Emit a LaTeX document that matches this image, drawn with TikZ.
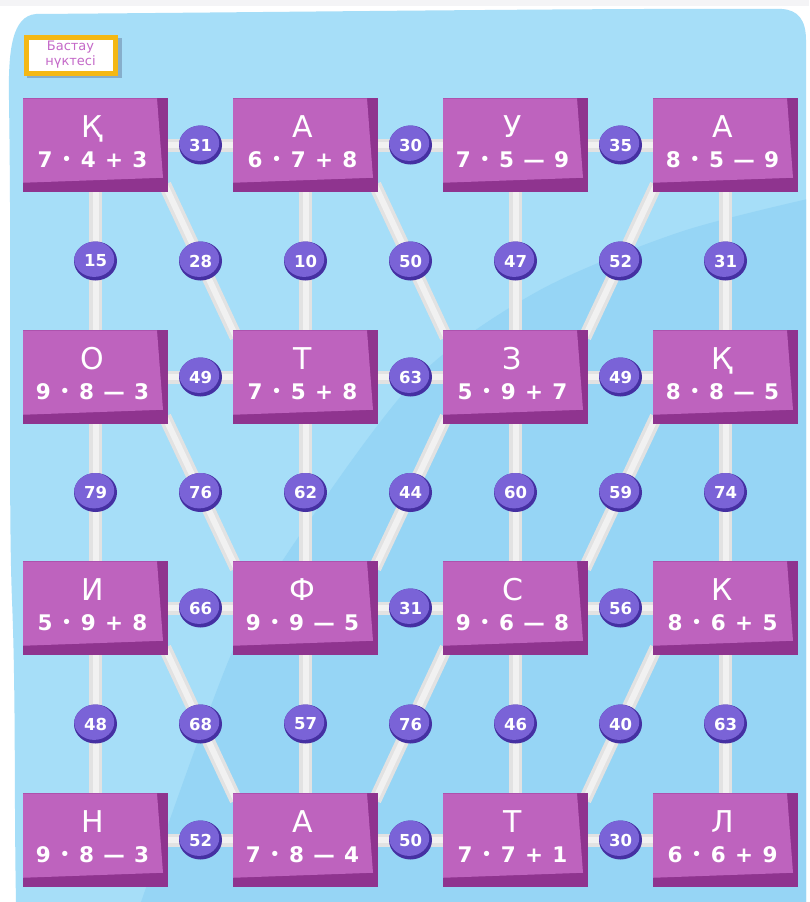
\documentclass[tikz,border=0pt]{standalone}
\usepackage{fontspec}
\setmainfont{DejaVu Sans}
\newfontfamily\expfont{DejaVu Sans}[WordSpace=1.25]
\usetikzlibrary{calc,shapes.geometric}
\pgfdeclarelayer{back}
\pgfdeclarelayer{mid}
\pgfsetlayers{back,mid,main}
\definecolor{bglight}{HTML}{A6DEF8}
\definecolor{bgdark}{HTML}{96D5F5}
\definecolor{topgray}{HTML}{F4F4F6}
\definecolor{boxface}{HTML}{BE63BE}
\definecolor{boxdark}{HTML}{8F348F}
\definecolor{numlight}{HTML}{7A63D7}
\definecolor{numdark}{HTML}{4530A2}
\definecolor{connc}{HTML}{E2E2E2}
\definecolor{conninner}{HTML}{F1F1F1}
\definecolor{goldc}{HTML}{F4B814}
\definecolor{pinktext}{HTML}{C468C8}
\definecolor{shadowc}{HTML}{86AECB}
\newcommand\xdot{\raisebox{2.6pt}{\fontsize{15}{15}\selectfont •}}
\newcommand\gamebox[5]{%
  \node[pbox] (#1) at (#2,#3) {};
  \node[plet] (#1l) at ($(#1.north)+(-3,39)$) {#4};
  \node[pexp] (#1e) at ($(#1.north)+(-3,69)$) {#5};
}
\newcommand\linkline[2]{\draw[conn] #1 -- #2; \draw[conninn] #1 -- #2;}
\begin{document}
\begin{tikzpicture}[x=1pt,y=-1pt,
  pbox/.style={rectangle, minimum width=145pt, minimum height=93.5pt, inner sep=0pt, fill=boxdark,
    path picture={\fill[boxface] (path picture bounding box.north west) -- ([xshift=-11pt]path picture bounding box.north east) -- ([xshift=-5pt,yshift=14pt]path picture bounding box.south east) -- ([yshift=9pt]path picture bounding box.south west) -- cycle;}},
  plet/.style={anchor=base, text=white, font=\fontsize{30}{30}\selectfont, inner sep=0pt},
  pexp/.style={anchor=base, text=white, font=\expfont\bfseries\fontsize{21.5}{22}\selectfont, inner sep=0pt},
  num/.style={ellipse, minimum width=43pt, minimum height=39pt, inner sep=0pt, fill=numdark, text=white,
    font=\bfseries\fontsize{16.5}{16.5}\selectfont,
    path picture={\fill[numlight] ([xshift=-1.3pt,yshift=1.9pt]path picture bounding box.center) ellipse [x radius=20pt, y radius=17.8pt];}},
  conn/.style={line width=13pt, draw=connc, shorten <=-8pt, shorten >=-8pt},
  conninn/.style={line width=6pt, draw=conninner, shorten <=-8pt, shorten >=-8pt},
  startlbl/.style={rectangle, draw=goldc, line width=5pt, fill=white, minimum width=89pt, minimum height=36pt,
    inner sep=0pt, text=pinktext, align=center, font=\fontsize{13}{15}\selectfont}
]
\useasboundingbox (0,0) rectangle (809,902);
\begin{pgfonlayer}{back}
  \fill[white] (0,0) rectangle (809,902);
  \fill[topgray] (0,0) rectangle (809,6);
  \fill[bglight] (36,14) .. controls (300,12) and (600,8) .. (782,9) .. controls (798,10) and (806,20) .. (806,40) -- (806,902) -- (16,902) .. controls (14,800) and (16,700) .. (12,600) .. controls (8,500) and (12,300) .. (9,100) .. controls (8,50) and (12,16) .. (36,14) -- cycle;
  \begin{scope}
    \clip (36,14) .. controls (300,12) and (600,8) .. (782,9) .. controls (798,10) and (806,20) .. (806,40) -- (806,902) -- (16,902) .. controls (14,800) and (16,700) .. (12,600) .. controls (8,500) and (12,300) .. (9,100) .. controls (8,50) and (12,16) .. (36,14) -- cycle;
    \fill[bgdark] plot[smooth] coordinates {(140,905) (233,650) (310,520) (420,375) (540,290) (680,232) (812,198)} -- (812,905) -- cycle;
  \end{scope}
\end{pgfonlayer}

% start label
\fill[shadowc] (27,38) rectangle (122,78);
\node[startlbl] (start) at (70.5,55) {Бастау\\нүктесі};

% boxes
\gamebox{b11}{95.5}{145}{Қ}{7 \xdot{} 4 + 3}
\gamebox{b12}{305.5}{145}{А}{6 \xdot{} 7 + 8}
\gamebox{b13}{515.5}{145}{У}{7 \xdot{} 5 — 9}
\gamebox{b14}{725.5}{145}{А}{8 \xdot{} 5 — 9}
\gamebox{b21}{95.5}{377}{О}{9 \xdot{} 8 — 3}
\gamebox{b22}{305.5}{377}{Т}{7 \xdot{} 5 + 8}
\gamebox{b23}{515.5}{377}{З}{5 \xdot{} 9 + 7}
\gamebox{b24}{725.5}{377}{Қ}{8 \xdot{} 8 — 5}
\gamebox{b31}{95.5}{608}{И}{5 \xdot{} 9 + 8}
\gamebox{b32}{305.5}{608}{Ф}{9 \xdot{} 9 — 5}
\gamebox{b33}{515.5}{608}{С}{9 \xdot{} 6 — 8}
\gamebox{b34}{725.5}{608}{К}{8 \xdot{} 6 + 5}
\gamebox{b41}{95.5}{840}{Н}{9 \xdot{} 8 — 3}
\gamebox{b42}{305.5}{840}{А}{7 \xdot{} 8 — 4}
\gamebox{b43}{515.5}{840}{Т}{7 \xdot{} 7 + 1}
\gamebox{b44}{725.5}{840}{Л}{6 \xdot{} 6 + 9}

% connectors
\begin{pgfonlayer}{mid}
  % horizontal
  \linkline{(b11.east)}{(b12.west)} \linkline{(b12.east)}{(b13.west)} \linkline{(b13.east)}{(b14.west)}
  \linkline{(b21.east)}{(b22.west)} \linkline{(b22.east)}{(b23.west)} \linkline{(b23.east)}{(b24.west)}
  \linkline{(b31.east)}{(b32.west)} \linkline{(b32.east)}{(b33.west)} \linkline{(b33.east)}{(b34.west)}
  \linkline{(b41.east)}{(b42.west)} \linkline{(b42.east)}{(b43.west)} \linkline{(b43.east)}{(b44.west)}
  % vertical
  \linkline{(b11.south)}{(b21.north)} \linkline{(b12.south)}{(b22.north)} \linkline{(b13.south)}{(b23.north)} \linkline{(b14.south)}{(b24.north)}
  \linkline{(b21.south)}{(b31.north)} \linkline{(b22.south)}{(b32.north)} \linkline{(b23.south)}{(b33.north)} \linkline{(b24.south)}{(b34.north)}
  \linkline{(b31.south)}{(b41.north)} \linkline{(b32.south)}{(b42.north)} \linkline{(b33.south)}{(b43.north)} \linkline{(b34.south)}{(b44.north)}
  % diagonals
  \linkline{(b11.south east)}{(b22.north west)} \linkline{(b12.south east)}{(b23.north west)} \linkline{(b14.south west)}{(b23.north east)}
  \linkline{(b21.south east)}{(b32.north west)} \linkline{(b23.south west)}{(b32.north east)} \linkline{(b24.south west)}{(b33.north east)}
  \linkline{(b31.south east)}{(b42.north west)} \linkline{(b33.south west)}{(b42.north east)} \linkline{(b34.south west)}{(b43.north east)}
\end{pgfonlayer}

% horizontal numbers
\node[num] (h11) at ($(b11.east)!0.5!(b12.west)$) {31};
\node[num] (h12) at ($(b12.east)!0.5!(b13.west)$) {30};
\node[num] (h13) at ($(b13.east)!0.5!(b14.west)$) {35};
\node[num] (h21) at ($(b21.east)!0.5!(b22.west)$) {49};
\node[num] (h22) at ($(b22.east)!0.5!(b23.west)$) {63};
\node[num] (h23) at ($(b23.east)!0.5!(b24.west)$) {49};
\node[num] (h31) at ($(b31.east)!0.5!(b32.west)$) {66};
\node[num] (h32) at ($(b32.east)!0.5!(b33.west)$) {31};
\node[num] (h33) at ($(b33.east)!0.5!(b34.west)$) {56};
\node[num] (h41) at ($(b41.east)!0.5!(b42.west)$) {52};
\node[num] (h42) at ($(b42.east)!0.5!(b43.west)$) {50};
\node[num] (h43) at ($(b43.east)!0.5!(b44.west)$) {30};
% vertical numbers
\node[num] (v11) at ($(b11.south)!0.5!(b21.north)$) {15};
\node[num] (v12) at ($(b12.south)!0.5!(b22.north)$) {10};
\node[num] (v13) at ($(b13.south)!0.5!(b23.north)$) {47};
\node[num] (v14) at ($(b14.south)!0.5!(b24.north)$) {31};
\node[num] (v21) at ($(b21.south)!0.5!(b31.north)$) {79};
\node[num] (v22) at ($(b22.south)!0.5!(b32.north)$) {62};
\node[num] (v23) at ($(b23.south)!0.5!(b33.north)$) {60};
\node[num] (v24) at ($(b24.south)!0.5!(b34.north)$) {74};
\node[num] (v31) at ($(b31.south)!0.5!(b41.north)$) {48};
\node[num] (v32) at ($(b32.south)!0.5!(b42.north)$) {57};
\node[num] (v33) at ($(b33.south)!0.5!(b43.north)$) {46};
\node[num] (v34) at ($(b34.south)!0.5!(b44.north)$) {63};
% diagonal numbers
\node[num] (d11) at ($(b11.south east)!0.5!(b22.north west)$) {28};
\node[num] (d12) at ($(b12.south east)!0.5!(b23.north west)$) {50};
\node[num] (d13) at ($(b14.south west)!0.5!(b23.north east)$) {52};
\node[num] (d21) at ($(b21.south east)!0.5!(b32.north west)$) {76};
\node[num] (d22) at ($(b23.south west)!0.5!(b32.north east)$) {44};
\node[num] (d23) at ($(b24.south west)!0.5!(b33.north east)$) {59};
\node[num] (d31) at ($(b31.south east)!0.5!(b42.north west)$) {68};
\node[num] (d32) at ($(b33.south west)!0.5!(b42.north east)$) {76};
\node[num] (d33) at ($(b34.south west)!0.5!(b43.north east)$) {40};
\end{tikzpicture}
\end{document}
